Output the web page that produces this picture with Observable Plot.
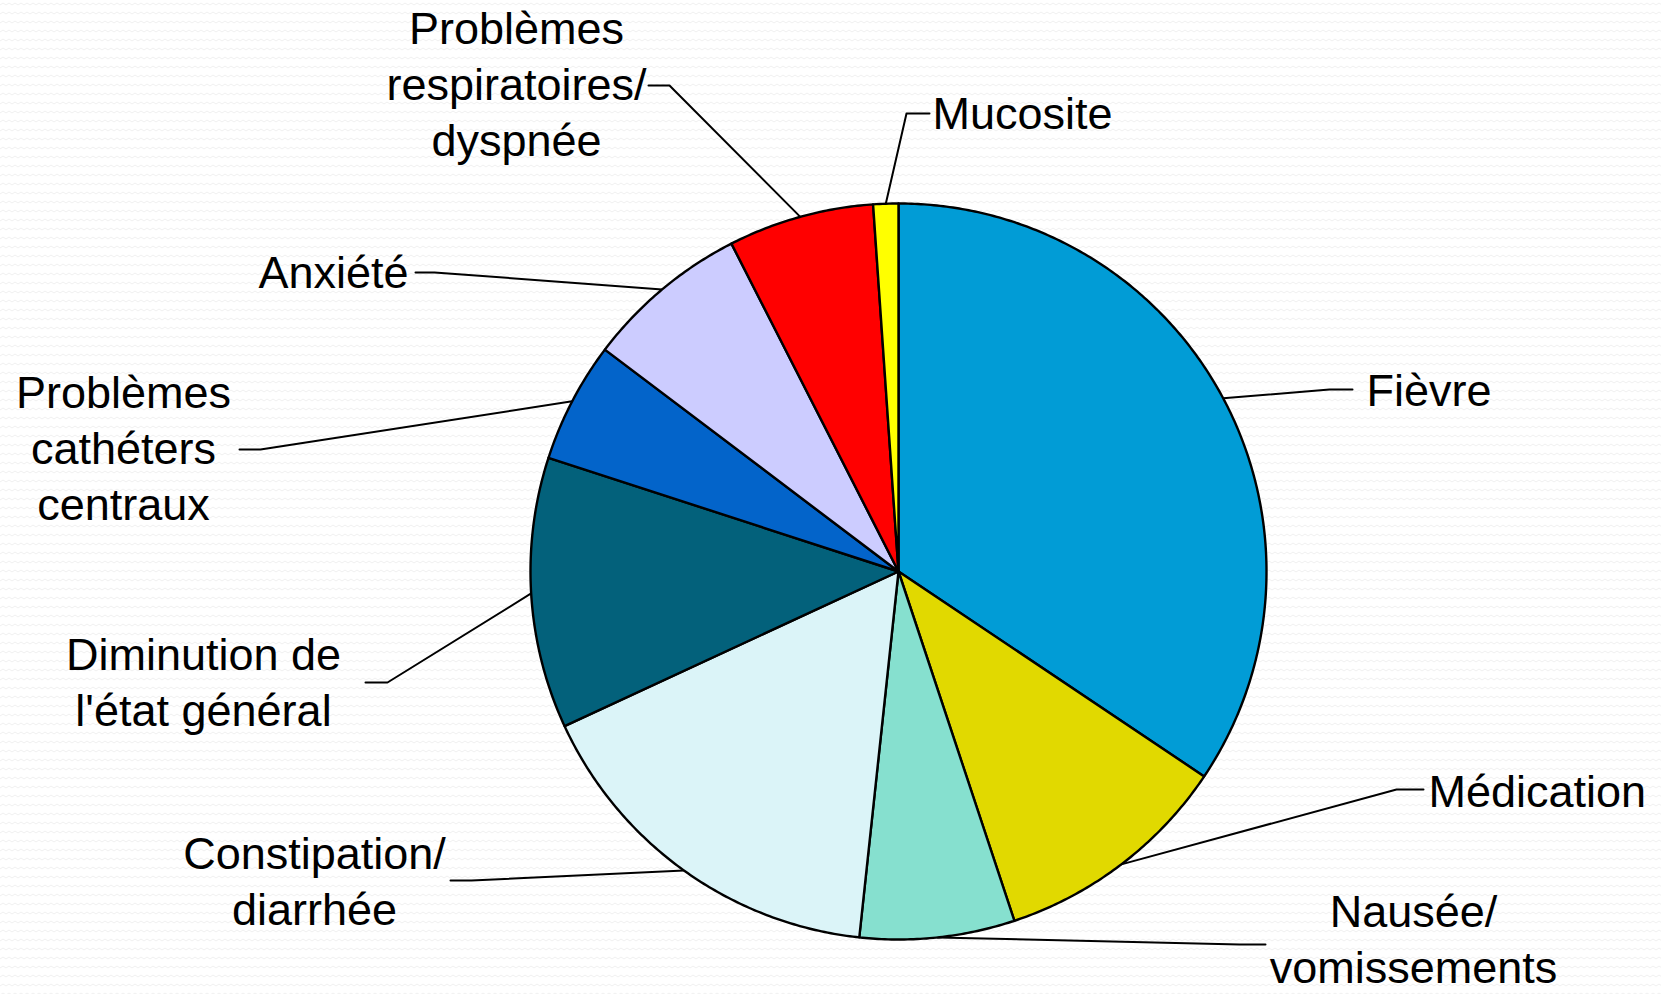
<!DOCTYPE html>
<html>
<head>
<meta charset="utf-8">
<script src="https://cdn.jsdelivr.net/npm/d3@7"></script>
<script src="https://cdn.jsdelivr.net/npm/@observablehq/plot@0.6"></script>
<style>
  html, body { margin: 0; padding: 0; background: #ffffff; }
  body {
    width: 1661px; height: 994px; overflow: hidden;
    background-image: url("data:image/svg+xml,%3Csvg xmlns='http://www.w3.org/2000/svg' width='6' height='9'%3E%3Cpath d='M0 5 L3 3 L6 5' fill='none' stroke='%23f0f0f0' stroke-width='1'/%3E%3C/svg%3E");
  }
  #chart svg { display: block; }
</style>
</head>
<body>
<div id="chart"></div>
<script>
// ---- Data ----
const categories = [
  "Fièvre",
  "Médication",
  "Nausée/\nvomissements",
  "Constipation/\ndiarrhée",
  "Diminution de\nl'état général",
  "Problèmes\ncathéters\ncentraux",
  "Anxiété",
  "Problèmes\nrespiratoires/\ndyspnée",
  "Mucosite"
];
const shares = [34.4, 10.5, 6.8, 16.4, 11.9, 5.3, 7.2, 6.4, 1.1];
const sliceColors = ["#019cd6", "#e1d900", "#86e0cf", "#dbf4f8", "#03617b", "#0364ca", "#ccccff", "#ff0000", "#ffff00"];

// ---- Layout (page geometry, not data) ----
const W = 1661, H = 994;
const CX = 898, CY = 571, R = 368;
const labelX = [1366, 1428, 1413, 314, 203, 123, 408, 516, 932];
const labelY = [388, 789, 937, 879, 680, 446, 270, 82, 111];
const labelAnchor = ["start", "start", "middle", "middle", "middle", "middle", "end", "middle", "start"];
const bendX = [1329, 1396, 1239, 471, 387, 260, 434, 669, 906];
const bendY = [389, 789, 944, 880, 682, 449, 272, 85, 113];
const endX = [1352, 1423, 1265, 450, 365, 239, 415, 648, 929];

// ---- Build slice polygons from the shares ----
const total = d3.sum(shares);
const slices = [];
const leaders = [];
let cum = 0;
categories.forEach((cat, i) => {
  const a0 = cum / total * 2 * Math.PI;
  cum += shares[i];
  const a1 = cum / total * 2 * Math.PI;
  const pts = [{cat, x: CX, y: CY}];
  const n = Math.max(2, Math.ceil((a1 - a0) / (Math.PI / 360)));
  for (let k = 0; k <= n; k++) {
    const a = a0 + (a1 - a0) * k / n;
    pts.push({cat, x: CX + R * Math.sin(a), y: CY - R * Math.cos(a)});
  }
  pts.push({cat, x: CX, y: CY});
  slices.push(...pts);
  const am = (a0 + a1) / 2;
  leaders.push({cat, x: CX + R * Math.sin(am), y: CY - R * Math.cos(am)});
  leaders.push({cat, x: bendX[i], y: bendY[i]});
  leaders.push({cat, x: endX[i], y: bendY[i]});
});

const labels = categories.map((cat, i) => ({cat, x: labelX[i], y: labelY[i], anchor: labelAnchor[i]}));

const textOpts = {
  x: "x", y: "y", text: "cat",
  fontSize: 45, lineHeight: 1.245, lineAnchor: "middle", fill: "#000000"
};

const chart = Plot.plot({
  width: W,
  height: H,
  margin: 0,
  x: {domain: [0, W], range: [0, W], axis: null},
  y: {domain: [0, H], range: [0, H], axis: null},
  color: {domain: categories, range: sliceColors},
  style: {background: "transparent", fontFamily: "'Liberation Sans', Arial, sans-serif"},
  marks: [
    Plot.line(leaders, {x: "x", y: "y", z: "cat", stroke: "#000000", strokeWidth: 2}),
    Plot.line(slices, {x: "x", y: "y", z: "cat", fill: "cat", stroke: "#000000", strokeWidth: 2.4, strokeLinejoin: "round"}),
    Plot.text(labels.filter(d => d.anchor === "start"), {...textOpts, textAnchor: "start"}),
    Plot.text(labels.filter(d => d.anchor === "middle"), {...textOpts, textAnchor: "middle"}),
    Plot.text(labels.filter(d => d.anchor === "end"), {...textOpts, textAnchor: "end"})
  ]
});
document.getElementById("chart").appendChild(chart);
</script>
</body>
</html>
